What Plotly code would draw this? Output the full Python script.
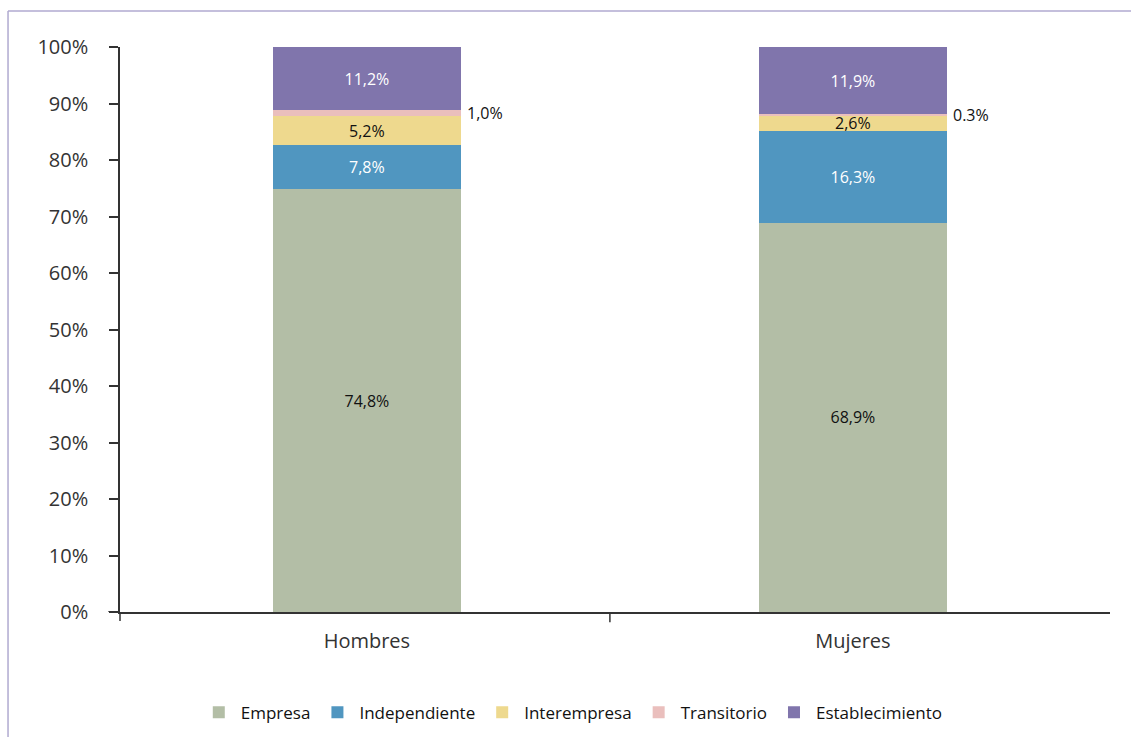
import plotly.graph_objects as go

# Data
grupos = ["Hombres", "Mujeres"]
empresa = [74.8, 68.9]
independiente = [7.8, 16.3]
interempresa = [5.2, 2.6]
transitorio = [1.0, 0.3]
establecimiento = [11.2, 11.9]
transitorio_txt = ["1,0%", "0.3%"]

series = [
    ("Empresa", empresa, "#b3bea6", "#111111"),
    ("Independiente", independiente, "#5096c0", "#ffffff"),
    ("Interempresa", interempresa, "#eed98e", "#111111"),
    ("Transitorio", transitorio, "#eabfbd", None),
    ("Establecimiento", establecimiento, "#8075ac", "#ffffff"),
]

FONT = "Open Sans"
BAR_W = 0.387
AXC = "#333333"

fig = go.Figure()
for name, vals, color, txtcol in series:
    if txtcol is None:
        text = [""] * len(vals)
    else:
        text = [f"{v:.1f}%".replace(".", ",") for v in vals]
    fig.add_trace(go.Bar(
        x=grupos, y=vals, name=name, marker_color=color,
        marker_line_width=0, width=BAR_W,
        text=text, textposition="inside", insidetextanchor="middle",
        textangle=0, constraintext="none",
        textfont=dict(family=FONT, size=16, color=txtcol or "#111111"),
        hoverinfo="skip",
    ))

# outside labels for Transitorio
for i, g in enumerate(grupos):
    base = empresa[i] + independiente[i] + interempresa[i]
    fig.add_annotation(
        x=i + BAR_W / 2, y=base + transitorio[i] / 2, xref="x", yref="y",
        text=transitorio_txt[i], showarrow=False, xanchor="left", xshift=4,
        font=dict(family=FONT, size=16, color="#111111"),
    )

fig.update_layout(
    barmode="stack",
    width=1131, height=737,
    paper_bgcolor="white", plot_bgcolor="white",
    margin=dict(l=120, r=21, t=47, b=125),
    font=dict(family=FONT, color=AXC),
    showlegend=True,
    legend=dict(orientation="h", x=0.506, xref="container", xanchor="center",
                y=0.033, yref="container", yanchor="middle",
                font=dict(family=FONT, size=17, color="#111111"),
                itemwidth=34, traceorder="normal"),
    xaxis=dict(range=[-0.508, 1.529], showline=True, linecolor=AXC, linewidth=1.5,
               ticks="", ticklabelstandoff=10,
               tickfont=dict(family=FONT, size=20, color=AXC), showgrid=False,
               zeroline=False),
    yaxis=dict(range=[0, 100], dtick=10, ticksuffix="%", showline=True,
               linecolor=AXC, linewidth=1.5, ticks="outside", ticklen=9,
               tickcolor=AXC, tickwidth=1.5, showgrid=False, zeroline=False,
               ticklabelstandoff=17,
               tickfont=dict(family=FONT, size=20, color=AXC)),
)

# axis decorations: x line extended left, y line extended down, middle x tick
fig.add_shape(type="line", xref="paper", yref="y", x0=-0.012, x1=0, y0=0, y1=0,
              line=dict(color=AXC, width=1.5))
fig.add_shape(type="line", xref="paper", yref="paper", x0=0, x1=0, y0=0, y1=-0.016,
              line=dict(color=AXC, width=1.5))
fig.add_shape(type="line", xref="x", yref="paper", x0=0.5, x1=0.5, y0=0, y1=-0.018,
              line=dict(color=AXC, width=1.5))
# frame around chart
fig.add_shape(type="line", xref="paper", yref="paper", x0=-0.1131, x1=1.05,
              y0=1.0637, y1=1.0637, line=dict(color="#b0aad0", width=1.5))
fig.add_shape(type="line", xref="paper", yref="paper", x0=-0.1131, x1=-0.1131,
              y0=1.0637, y1=-0.3, line=dict(color="#b0aad0", width=1.5))

fig.write_html("out.html", config={"displayModeBar": False},
               post_script="document.body.style.margin='0';")
